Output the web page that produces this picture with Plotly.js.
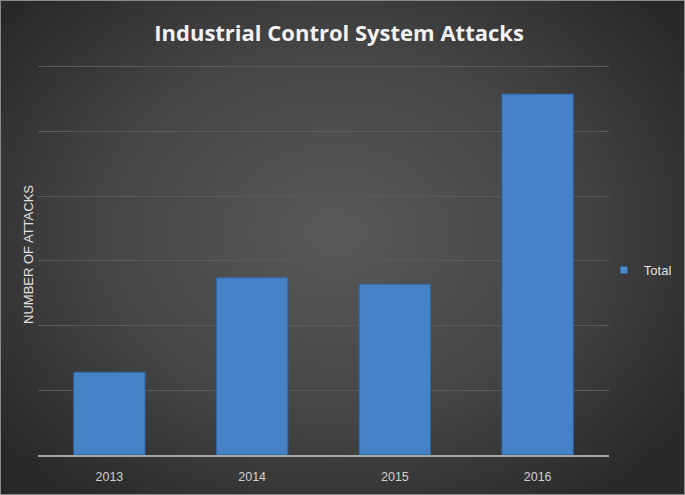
<!DOCTYPE html>
<html>
<head>
<meta charset="utf-8">
<script src="https://cdn.plot.ly/plotly-3.0.1.min.js"></script>
<style>
  html, body { margin: 0; padding: 0; background: #2a2a2a; }
  #chart {
    width: 685px; height: 495px; box-sizing: border-box;
    border: 1px solid #8a8a8a;
    background: radial-gradient(ellipse 62% 68% at 49% 47%, #595959 0%, #454545 55%, #292929 100%);
  }
</style>
</head>
<body>
<div id="chart"></div>
<script>
const years = ['2013', '2014', '2015', '2016'];
const totals = [64, 137, 132, 279];
const seriesName = 'Total';

const data = [
  {
    type: 'bar',
    x: years,
    y: totals,
    name: seriesName,
    showlegend: false,
    marker: { color: '#4583c6', line: { color: '#2d65a6', width: 1 } },
    hoverinfo: 'x+y'
  },
  {
    type: 'scatter',
    mode: 'markers',
    x: [null],
    y: [null],
    name: seriesName,
    marker: { symbol: 'square', size: 7, color: '#4a8ad0', line: { color: '#2d65a6', width: 0.5 } }
  }
];

const layout = {
  width: 683,
  height: 493,
  paper_bgcolor: 'rgba(0,0,0,0)',
  plot_bgcolor: 'rgba(0,0,0,0)',
  margin: { l: 37, r: 75, t: 53, b: 39, pad: 0, autoexpand: false },
  bargap: 0.5,
  title: {
    text: 'Industrial Control System Attacks',
    font: { family: 'Open Sans, sans-serif', size: 22, color: '#f2f2f2', weight: 'bold' },
    x: 0.495, xanchor: 'center',
    y: 0.935, yanchor: 'middle'
  },
  xaxis: {
    type: 'category',
    showgrid: false,
    showline: true,
    linecolor: '#a6a6a6',
    linewidth: 2,
    ticks: '',
    ticklabelstandoff: 9,
    tickfont: { family: 'Liberation Sans, Arial, sans-serif', size: 12.5, color: '#d0d0d0' },
    zeroline: false
  },
  yaxis: {
    range: [0, 310],
    dtick: 50,
    showgrid: true,
    gridcolor: '#5a5a5a',
    gridwidth: 1,
    showticklabels: false,
    ticks: '',
    zeroline: false,
    showline: false,
    title: {
      text: 'NUMBER OF ATTACKS',
      standoff: 0,
      font: { family: 'Liberation Sans, Arial, sans-serif', size: 13, color: '#e0e0e0' }
    }
  },
  legend: {
    x: 0.991, xanchor: 'left',
    y: 0.461, yanchor: 'middle',
    bgcolor: 'rgba(0,0,0,0)',
    font: { family: 'Liberation Sans, Arial, sans-serif', size: 13, color: '#e0e0e0' },
    itemwidth: 30
  },
  showlegend: true
};

Plotly.newPlot('chart', data, layout, { displayModeBar: false, staticPlot: true });
</script>
</body>
</html>
